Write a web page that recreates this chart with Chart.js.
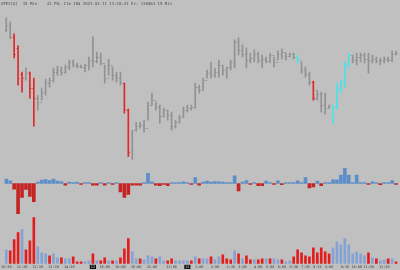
<!DOCTYPE html>
<html>
<head>
<meta charset="utf-8">
<script src="https://cdn.jsdelivr.net/npm/chart.js@4"></script>
<style>
  html, body { margin: 0; padding: 0; background: #c0c0c0; }
</style>
</head>
<body>
<canvas id="myChart" width="400" height="270"></canvas>
<script>
// 15 min bars, OHLC
var high = [182,178,166,154,128,132,128,122,105,112, 121,122,132,134,133,135,140,140,137,135,
            136,143,163,148,147,135,141,133,128,128, 117,91,70,78,78,80,98,107,98,95,
            92,90,88,80,85,93,95,95,117,115, 122,130,138,132,140,135,133,140,160,162,
            155,152,147,150,148,145,143,147,143,149, 151,147,147,147,145,138,133,128,119,110,
            108,107,95,95,117,120,138,147,145,147, 147,147,147,145,143,142,143,143,149,149];
var low  = [168,161,142,115,108,120,102,74,90,100, 105,113,118,125,125,127,130,133,132,132,
            128,130,133,137,135,117,125,120,118,115, 87,44,41,69,72,68,80,95,90,77,
            83,80,70,72,77,83,88,90,92,107, 110,122,122,123,123,125,122,130,132,145,
            143,132,137,138,137,132,137,137,133,140, 141,140,143,141,137,127,123,115,100,100,
            88,86,92,77,91,107,113,133,137,135, 138,137,127,137,137,135,137,138,138,145];
var open = [170,175,163,152,126,122,127,112,102,98, 108,117,120,128,130,128,133,138,135,134,
            133,135,140,139,143,137,122,135,125,122, 117,90,50,70,74,75,72,95,100,93,
            84,90,85,74,78,83,90,92,93,113, 110,120,127,125,128,135,130,133,138,158,
            150,146,140,142,146,140,141,139,145,138, 146,148,144,146,143,140,130,126,118,102,
            106,95,92,82,93,112,118,135,145,140, 143,145,141,140,141,139,140,141,140,146];
var close = [175,163,146,122,122,128,112,102,98,108, 117,120,128,130,128,133,138,135,134,133,
             135,140,139,143,137,122,135,125,122,118, 91,48,70,74,75,72,95,100,93,84,
             90,85,74,78,83,90,92,93,113,110, 120,127,125,128,135,130,133,138,158,150,
             146,140,142,146,140,141,139,145,138,146, 148,144,146,143,140,130,126,118,102,106,
             95,92,94,93,112,118,135,145,140,143, 145,141,140,141,139,140,141,140,146,147];
var redBars = [2,3,4,6,7,30,31,78];
var cyanBars = [74,83,84,85,86,87];

// delta histogram
var delta = [4.3,2.7,-5.7,-30,-14,-6,-13,-18,1.5,3.3, 4,3,4.3,2.3,2,-1.7,1.3,0.5,1.3,-0.8,
             1,0.5,-1.7,-1.7,0.5,-1.7,1,-1,0.7,-8.3, -14,-11,-1.7,-1.7,-1.7,0.5,10,1.7,-1.7,-2.3,
             -0.5,-2.3,1,0.7,0.7,1.7,0.7,-0.7,6,-1.7, 1.3,2.3,1.3,2,1.7,1.3,1,1,7.7,-7.3,
             1.3,3,-1,0.7,-2.3,-2.3,2.3,0.7,-1,2.7, -1.3,1,1,1,2.7,1,6,-4.3,-3.3,2.3,
             -2.3,0.5,0.5,3.7,3.7,8.3,15,8.3,1,8.3, 1,0.5,-1,1.7,0.7,-1.3,0.7,0.7,3,-1];

// volume, 1 = buy side
var volume = [14,13,24,31,34,14,23,46,17,11, 10,8,10,6,6,5,5,7,2,2, 2,3,10,3,3,6,3,3,3,6,
              15,25,12,5,5,4,8,7,5,7, 3,3,5,3,3,3,3,3,7,5, 5,5,7,4,7,9,5,4,13,10,
              5,8,4,4,4,5,5,5,5,4, 4,2,3,7,14,11,8,7,16,11, 16,12,10,16,22,19,25,19,10,12,
              10,8,11,6,5,3,4,5,5,2];
var volBuy = [1,0,0,0,1,0,0,0,1,1, 1,0,1,1,0,1,1,0,0,0, 1,1,0,1,0,0,1,0,1,0,
              0,0,1,1,0,1,1,1,0,1, 1,0,0,1,1,1,1,0,1,0, 1,1,0,1,1,0,0,0,1,0,
              1,0,0,1,0,0,1,0,1,1, 0,1,1,0,0,0,0,0,0,0, 0,0,0,1,1,1,1,1,1,1,
              1,1,0,1,0,1,1,0,1,0];

// x axis labels
var tickIdx  = [0,4,8,12,16,22,25,29,33,37,42,46,49,53,57,60,64,67,70,73,76,79,82,86,89,92,96];
var tickText = ['10:30','11:30','12:30','13:30','14:30','12','18:00','19:00','20:00','21:00','22:00','13',
                '1:00','2:00','2:30','3:00','4:00','5:00','6:00','6:30','7:30','8:15','9:00','9:30',
                '10:00','11:00','11:30'];
var dayIdx = [22, 46];

var title = 'OPEX[Q]  15 Min    41 FN: 11e 1Hd 2021-01-11 13:18:41 Ev: 118063 15 Min';

function priceColor(i) {
    if (redBars.indexOf(i) >= 0) return '#e02828';
    if (cyanBars.indexOf(i) >= 0) return '#48e4e8';
    return '#929292';
}

var bg = {
    id: 'bg',
    beforeDraw: function(chart) {
        var c = chart.ctx;
        c.save();
        c.fillStyle = '#c0c0c0';
        c.fillRect(0, 0, chart.width, chart.height);
        c.restore();
    }
};

// open tick left, close tick right
var ohlcTicks = {
    id: 'ohlcTicks',
    afterDatasetsDraw: function(chart) {
        var xs = chart.scales.x, ys = chart.scales.yP, c = chart.ctx;
        c.save();
        c.lineWidth = 1;
        for (var i = 0; i < open.length; i++) {
            var px = xs.getPixelForValue(i);
            var yo = Math.round(ys.getPixelForValue(open[i])) + 0.5;
            var yc = Math.round(ys.getPixelForValue(close[i])) + 0.5;
            c.strokeStyle = priceColor(i);
            c.beginPath();
            c.moveTo(px - 1.5, yo); c.lineTo(px, yo);
            c.moveTo(px, yc); c.lineTo(px + 1.5, yc);
            c.stroke();
        }
        c.restore();
    }
};

var hiddenY = function(min, max, weight, stackWeight) {
    return {
        type: 'linear', position: 'left', stack: 'panels', stackWeight: stackWeight, weight: weight,
        min: min, max: max,
        ticks: { display: false }, grid: { display: false, drawTicks: false }, border: { display: false },
        afterFit: function(s) { s.width = 0; }
    };
};

var ctx = document.getElementById('myChart').getContext('2d');
var myChart = new Chart(ctx, {
    type: 'bar',
    data: {
        labels: high.map(function(_, i) { return i; }),
        datasets: [
            {
                label: 'price',
                data: low.map(function(l, i) { return [l, high[i]]; }),
                yAxisID: 'yP',
                backgroundColor: function(c) { return priceColor(c.dataIndex); },
                barThickness: 1,
                grouped: false
            },
            {
                label: 'delta',
                data: delta,
                yAxisID: 'yD',
                backgroundColor: function(c) { return delta[c.dataIndex] >= 0 ? '#5e8ec8' : '#c42424'; },
                barThickness: 3,
                minBarLength: 1,
                grouped: false
            },
            {
                label: 'volume',
                data: volume,
                yAxisID: 'yV',
                backgroundColor: function(c) { return volBuy[c.dataIndex] ? '#84a2d2' : '#e41c1c'; },
                barThickness: 2,
                grouped: false
            }
        ]
    },
    options: {
        responsive: false,
        animation: false,
        layout: { padding: { left: 1, right: 2, top: 0, bottom: 0 } },
        plugins: {
            legend: { display: false },
            tooltip: { enabled: false },
            title: {
                display: true,
                text: title,
                align: 'start',
                color: '#505050',
                font: { family: 'DejaVu Sans Mono', size: 4, weight: 'normal' },
                padding: { top: 2, bottom: 4 }
            }
        },
        scales: {
            x: {
                grid: { display: false, drawTicks: false },
                border: { display: false },
                ticks: {
                    autoSkip: false,
                    maxRotation: 0,
                    padding: 1,
                    font: { family: 'DejaVu Sans Mono', size: 3.5 },
                    color: function(c) { return dayIdx.indexOf(c.index) >= 0 ? '#d0d0d0' : '#404040'; },
                    showLabelBackdrop: true,
                    backdropPadding: { x: 1, y: 0 },
                    backdropColor: function(c) { return dayIdx.indexOf(c.index) >= 0 ? '#141414' : 'rgba(0,0,0,0)'; },
                    callback: function(v, i) {
                        var k = tickIdx.indexOf(i);
                        return k >= 0 ? tickText[k] : '';
                    }
                }
            },
            yP: hiddenY(37, 189, 3, 152),
            yD: hiddenY(-32, 20, 2, 52),
            yV: hiddenY(0, 48, 1, 48)
        }
    },
    plugins: [bg, ohlcTicks]
});
</script>
</body>
</html>
